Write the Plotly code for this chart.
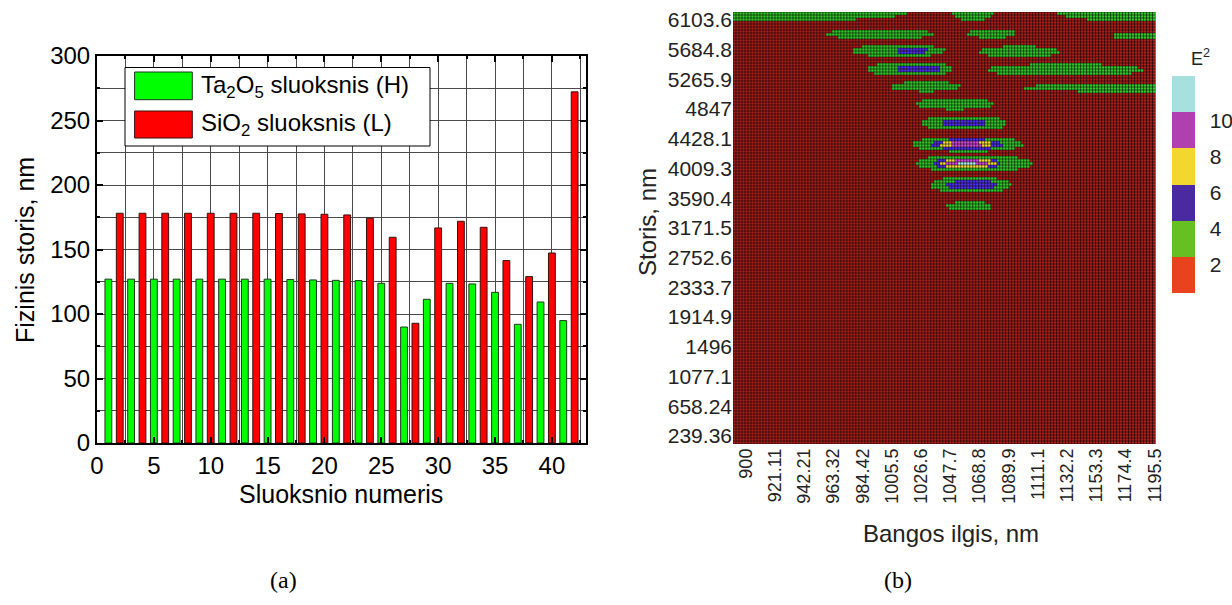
import numpy as np
import plotly.graph_objects as go

W, H = 1232, 605

# ---------------- (a) layer thicknesses ----------------
layers_H = [1, 3, 5, 7, 9, 11, 13, 15, 17, 19, 21, 23, 25, 27, 29, 31, 33, 35, 37, 39, 41]
thick_H = [127, 127, 127, 127, 127, 127, 127, 127, 126.7, 126.4, 126.1, 125.9, 123.8,
           89.9, 111.4, 123.8, 123.3, 116.8, 92.0, 109.3, 94.9]
layers_L = [2, 4, 6, 8, 10, 12, 14, 16, 18, 20, 22, 24, 26, 28, 30, 32, 34, 36, 38, 40, 42]
thick_L = [178.1, 178.1, 178.1, 178.1, 178.1, 178.1, 178.1, 177.9, 177.6, 177.3, 176.8,
           174.2, 159.5, 92.8, 166.7, 171.9, 167.2, 141.4, 129.0, 147.3, 272.2]
name_H = "Ta<sub>2</sub>O<sub>5</sub> sluoksnis (H)"
name_L = "SiO<sub>2</sub> sluoksnis (L)"

# ---------------- (b) E^2 field: regions ----------------
# level: 1=2..4 (green), 2=4..6 (blue), 3=6..8 (yellow), 4=8..10 (magenta), 5=>10 (cyan)
blob_level = [1, 1, 1,
              1, 1, 1,
              1, 2, 1,
              1, 2, 1,
              1, 1,
              1,
              1, 2,
              1, 2, 3, 4,
              1, 2, 3, 4, 5,
              1, 2,
              1]
blob_x0 = [765, 1049, 1124,
           958, 1060, 1165,
           977, 1009, 1068,
           987, 1009, 1074,
           1005, 1100,
           1022,
           1026, 1042,
           1020, 1034, 1040, 1047,
           1022, 1035, 1040, 1045, 1052,
           1033, 1045,
           1045]
blob_x1 = [1018, 1079, 1268,
           1035, 1095, 1227,
           1044, 1031, 1127,
           1050, 1041, 1187,
           1055, 1292,
           1079,
           1089, 1074,
           1100, 1085, 1078, 1072,
           1107, 1084, 1081, 1074, 1067,
           1091, 1081,
           1078]
blob_y = [6216, 6216, 6216,
          5906, 5915, 5878,
          5670, 5670, 5656,
          5412, 5412, 5398,
          5163, 5149,
          4919,
          4651, 4651,
          4351, 4351, 4351, 4351,
          4083, 4083, 4083, 4083, 4083,
          3777, 3777,
          3481]
blob_h = [130, 115, 130,
          68, 64, 55,
          82, 44, 76,
          90, 50, 82,
          68, 60,
          78,
          104, 57,
          104, 72, 50, 35,
          112, 80, 58, 44, 28,
          108, 62,
          60]

x_tick_labels = ["900", "921.11", "942.21", "963.32", "984.42", "1005.5", "1026.6", "1047.7",
                 "1068.8", "1089.9", "1111.1", "1132.2", "1153.3", "1174.4", "1195.5"]
y_tick_labels = ["239.36", "658.24", "1077.1", "1496", "1914.9", "2333.7", "2752.6", "3171.5",
                 "3590.4", "4009.3", "4428.1", "4847", "5265.9", "5684.8", "6103.6"]
cbar_labels = ["2", "4", "6", "8", "10"]

X_MIN, X_MAX = 890.6, 1196.0
Y_MIN, Y_MAX = 126.0, 6216.0
nx, ny = 141, 144
dx = (X_MAX - X_MIN) / nx
dy = (Y_MAX - Y_MIN) / ny
xc = X_MIN + dx * (np.arange(nx) + 0.5)
yc = Y_MIN + dy * (np.arange(ny) + 0.5)
XX, YY = np.meshgrid(xc, yc)
Z = np.ones((ny, nx))
for lv, a0, a1, yb, hb in zip(blob_level, blob_x0, blob_x1, blob_y, blob_h):
    cx = (a0 + a1) / 2.0
    ax = (a1 - a0) / 2.0
    inside = np.abs((XX - cx) / ax) ** 3 + ((YY - yb) / hb) ** 2 <= 1.0
    Z[inside] = np.maximum(Z[inside], 2 * lv + 1)

# mesh (cell edges) drawn over the map
x_edges = X_MIN + dx * np.arange(nx + 1)
y_edges = Y_MIN + dy * np.arange(ny + 1)
mx, my = [], []
for xe in x_edges:
    mx += [xe, xe, None]
    my += [Y_MIN, Y_MAX, None]
for ye in y_edges:
    mx += [X_MIN, X_MAX, None]
    my += [ye, ye, None]

def discrete(cols):
    n = len(cols)
    cs = []
    for i, c in enumerate(cols):
        cs.append([i / n, c])
        cs.append([(i + 1) / n, c])
    return cs

cells_cols = ["rgb(172,32,28)", "rgb(52,200,42)", "rgb(82,50,235)",
              "rgb(245,222,50)", "rgb(215,75,220)", "rgb(170,245,245)"]
bar_cols = ["#E8421F", "#66C020", "#4A2AA0", "#F2D82E", "#B040B0", "#A8E0E0"]

SANS = "Liberation Sans, Arial, sans-serif"

def px_x(p):
    return p / W

def px_y(p):
    return 1 - p / H

fig = go.Figure()

fig.add_trace(go.Bar(x=layers_H, y=thick_H, width=0.6, name=name_H,
                     marker=dict(color="#00FF00", line=dict(color="#1a3a1a", width=1)),
                     xaxis="x", yaxis="y", showlegend=False))
fig.add_trace(go.Bar(x=layers_L, y=thick_L, width=0.6, name=name_L,
                     marker=dict(color="#FF0000", line=dict(color="#3a1010", width=1)),
                     xaxis="x", yaxis="y", showlegend=False))

fig.add_trace(go.Heatmap(z=Z, x0=xc[0], dx=dx, y0=yc[0], dy=dy, zmin=0, zmax=12,
                         colorscale=discrete(cells_cols), showscale=False,
                         xaxis="x2", yaxis="y2", hoverinfo="skip"))
fig.add_trace(go.Scatter(x=mx, y=my, mode="lines", line=dict(color="rgba(0,0,0,0.55)", width=1),
                         xaxis="x2", yaxis="y2", hoverinfo="skip", showlegend=False))
# colour key
fig.add_trace(go.Heatmap(z=[[1]], x=[500], y=[0], zmin=0, zmax=12,
                         colorscale=discrete(bar_cols), showscale=True,
                         xaxis="x2", yaxis="y2", hoverinfo="skip",
                         colorbar=dict(x=px_x(1172), xanchor="left", xpad=0,
                                       y=px_y(184.5), yanchor="middle", ypad=0,
                                       len=217, lenmode="pixels",
                                       thickness=23, thicknessmode="pixels",
                                       outlinewidth=0,
                                       tickvals=[1.55, 3.55, 5.55, 7.55, 9.55],
                                       ticktext=cbar_labels,
                                       ticks="outside", ticklen=11, tickcolor="rgba(0,0,0,0)",
                                       tickfont=dict(family=SANS, size=21, color="#222"))))

ax_common = dict(showline=True, linecolor="black", linewidth=2, mirror="ticks",
                 ticks="inside", ticklen=6, tickwidth=1.5, tickcolor="black",
                 showgrid=True, gridcolor="#4a4a4a", gridwidth=1, zeroline=False,
                 tickfont=dict(family=SANS, size=24, color="black"))

fig.update_layout(
    width=W, height=H, margin=dict(l=0, r=0, t=0, b=0, autoexpand=False),
    paper_bgcolor="white", plot_bgcolor="white",
    barmode="overlay",
    xaxis=dict(domain=[px_x(97), px_x(586)], range=[0, 43], tickvals=[0, 5, 10, 15, 20, 25, 30, 35, 40],
               anchor="y", automargin=False,
               minor=dict(dtick=2.5, showgrid=True, gridcolor="#4a4a4a", gridwidth=1,
                          ticks="inside", ticklen=3, tickcolor="black"),
               **ax_common),
    yaxis=dict(domain=[px_y(443), px_y(56)], range=[0, 300], dtick=50, anchor="x", automargin=False,
               minor=dict(dtick=25, showgrid=True, gridcolor="#4a4a4a", gridwidth=1,
                          ticks="inside", ticklen=3, tickcolor="black"),
               **ax_common),
    xaxis2=dict(domain=[px_x(733), px_x(1155.5)], range=[X_MIN, X_MAX], anchor="y2", automargin=False,
                tickvals=[float(s) for s in x_tick_labels], ticktext=x_tick_labels,
                tickangle=-90, ticks="", showgrid=False, zeroline=False, showline=False,
                tickfont=dict(family=SANS, size=18, color="#222")),
    yaxis2=dict(domain=[px_y(444), px_y(12)], range=[Y_MIN, Y_MAX], anchor="x2", automargin=False,
                tickvals=[float(s) for s in y_tick_labels], ticktext=y_tick_labels,
                ticks="", showgrid=False, zeroline=False, showline=False,
                tickfont=dict(family=SANS, size=21, color="#222")),
)

shapes = [
    # legend box
    dict(type="rect", xref="paper", yref="paper", x0=px_x(125), x1=px_x(430),
         y0=px_y(146), y1=px_y(67.5), fillcolor="white", line=dict(color="black", width=1)),
    dict(type="rect", xref="paper", yref="paper", x0=px_x(134.6), x1=px_x(192.3),
         y0=px_y(99.7), y1=px_y(72), fillcolor="#00FF00", line=dict(color="#1a3a1a", width=1)),
    dict(type="rect", xref="paper", yref="paper", x0=px_x(134.6), x1=px_x(192.3),
         y0=px_y(138), y1=px_y(111), fillcolor="#FF0000", line=dict(color="#3a1010", width=1)),
]
fig.update_layout(shapes=shapes)

ann = [
    dict(text=name_H, x=px_x(199), y=px_y(86), xanchor="left", yanchor="middle",
         font=dict(family=SANS, size=24, color="black")),
    dict(text=name_L, x=px_x(199), y=px_y(124), xanchor="left", yanchor="middle",
         font=dict(family=SANS, size=24, color="black")),
    dict(text="Fizinis storis, nm", x=px_x(25), y=px_y(250), textangle=-90,
         xanchor="center", yanchor="middle", font=dict(family=SANS, size=25, color="black")),
    dict(text="Sluoksnio numeris", x=px_x(341), y=px_y(494), xanchor="center", yanchor="middle",
         font=dict(family=SANS, size=25, color="black")),
    dict(text="Storis, nm", x=px_x(647), y=px_y(222), textangle=-90,
         xanchor="center", yanchor="middle", font=dict(family=SANS, size=24, color="#222")),
    dict(text="Bangos ilgis, nm", x=px_x(951), y=px_y(533), xanchor="center", yanchor="middle",
         font=dict(family=SANS, size=24, color="#222")),
    dict(text="E<sup>2</sup>", x=px_x(1200), y=px_y(58), xanchor="center", yanchor="middle",
         font=dict(family=SANS, size=18, color="#222")),
    dict(text="(a)", x=px_x(283), y=px_y(580), xanchor="center", yanchor="middle",
         font=dict(family="Liberation Serif, Times New Roman, serif", size=24, color="black")),
    dict(text="(b)", x=px_x(898), y=px_y(580), xanchor="center", yanchor="middle",
         font=dict(family="Liberation Serif, Times New Roman, serif", size=24, color="black")),
]
for a in ann:
    a.update(xref="paper", yref="paper", showarrow=False)
fig.update_layout(annotations=ann)

fig.write_html("out.html")
